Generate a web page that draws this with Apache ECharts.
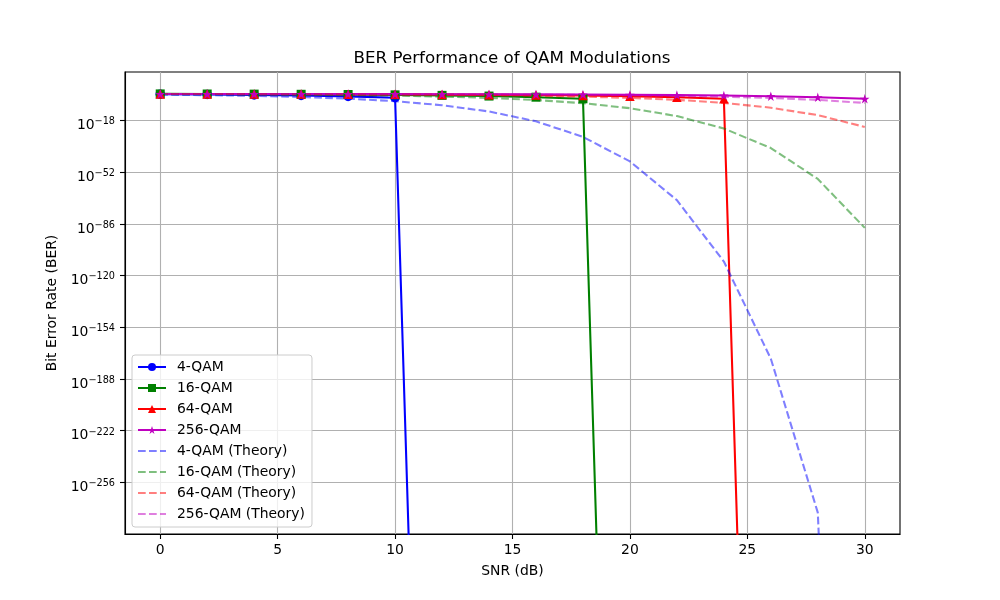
<!DOCTYPE html>
<html>
<head>
<meta charset="utf-8">
<script src="https://cdn.jsdelivr.net/npm/echarts@6/dist/echarts.min.js"></script>
<style>
html, body { margin: 0; padding: 0; background: #fff; }
#chart { width: 1000px; height: 600px; }
</style>
</head>
<body>
<div id="chart"></div>
<script>
// SNR points (dB)
var snr = [0, 2, 4, 6, 8, 10, 12, 14, 16, 18, 20, 22, 24, 26, 28, 30];

// simulated BER (0 = no errors counted)
var sim4   = [0.159, 0.104, 0.057, 0.023, 5.6e-3, 7.8e-4, 0, 0, 0, 0, 0, 0, 0, 0, 0, 0];
var sim16  = [0.246, 0.215, 0.179, 0.140, 0.098, 0.059, 0.0276, 9.4e-3, 1.76e-3, 1.5e-4, 0, 0, 0, 0, 0, 0];
var sim64  = [0.241, 0.229, 0.213, 0.193, 0.170, 0.143, 0.112, 0.080, 0.049, 0.024, 8.5e-3, 1.76e-3, 1.7e-4, 0, 0, 0];
var sim256 = [0.214, 0.209, 0.202, 0.194, 0.184, 0.1715, 0.156, 0.1376, 0.1158, 0.0912, 0.0654, 0.0398, 0.0199, 7.2e-3, 1.55e-3, 1.5e-4];

// theoretical BER
var th4   = [7.9e-2, 3.7e-2, 1.25e-2, 2.3e-3, 1.9e-4, 3.9e-6, 9.1e-9, 6.9e-13, 2.3e-19, 1.4e-29, 1.0e-45, 3.3e-71, 1.5e-111, 1.8e-175, 1.1e-276, 0];
var th16  = [0.198, 0.160, 0.118, 0.0776, 0.0424, 0.0171, 4.2e-3, 5.8e-4, 2.45e-5, 1.95e-7, 9.8e-11, 6.5e-16, 4.5e-24, 6.3e-37, 2.95e-57, 2.0e-89];
var th64  = [0.221, 0.203, 0.182, 0.157, 0.128, 0.096, 0.064, 0.0356, 0.0145, 3.97e-3, 6.0e-4, 3.1e-5, 3.0e-7, 2.2e-10, 2.7e-15, 5.0e-23];
var th256 = [0.206, 0.1985, 0.189, 0.178, 0.164, 0.147, 0.127, 0.1036, 0.078, 0.0523, 0.0294, 0.0122, 3.4e-3, 5.3e-4, 2.7e-5, 3.0e-7];

// tick positions
var xTicks = [0, 5, 10, 15, 20, 25, 30];
var yTickExp = [-256, -222, -188, -154, -120, -86, -52, -18];

var FONT = 'DejaVu Sans';
var STAR = 'path://M0,-1L0.2245,-0.309L0.951,-0.309L0.3633,0.118L0.5878,0.809L0,0.382L-0.5878,0.809L-0.3633,0.118L-0.951,-0.309L-0.2245,-0.309Z';
var LW = 2.08;

// log10 of BER, zeros clipped far below the axis like matplotlib does
function toLog(arr) {
    return arr.map(function (v, i) {
        return [snr[i], v > 0 ? Math.log10(v) : -1000];
    });
}

function simSeries(name, arr, color, symbol, size) {
    return {
        name: name,
        type: 'line',
        data: toLog(arr),
        symbol: symbol,
        symbolSize: size,
        showAllSymbol: true,
        lineStyle: { color: color, width: LW },
        itemStyle: { color: color },
        animation: false
    };
}

function theorySeries(name, arr, color) {
    return {
        name: name,
        type: 'line',
        data: toLog(arr),
        symbol: 'none',
        lineStyle: { color: color, width: LW, type: [7.7, 3.3], opacity: 0.5 },
        itemStyle: { color: color, opacity: 0.5 },
        animation: false
    };
}

var myChart = echarts.init(document.getElementById('chart'));

var legendNames = ['4-QAM', '16-QAM', '64-QAM', '256-QAM',
                   '4-QAM (Theory)', '16-QAM (Theory)', '64-QAM (Theory)', '256-QAM (Theory)'];

var option = {
    backgroundColor: '#ffffff',
    animation: false,
    textStyle: { fontFamily: FONT },
    title: {
        text: 'BER Performance of QAM Modulations',
        left: 512,
        top: 50,
        textAlign: 'center',
        padding: 0,
        textStyle: { fontFamily: FONT, fontSize: 16.7, fontWeight: 'normal', color: '#000' }
    },
    grid: {
        left: 125,
        right: 100,
        top: 72,
        bottom: 66,
        show: true,
        borderColor: '#000',
        borderWidth: 1.1,
        backgroundColor: 'transparent'
    },
    legend: {
        orient: 'vertical',
        left: 132,
        top: 355,
        padding: [5, 7, 6, 5],
        itemWidth: 28,
        itemHeight: 10,
        itemGap: 7,
        backgroundColor: 'rgba(255,255,255,0.8)',
        borderColor: '#cccccc',
        borderWidth: 1,
        borderRadius: 3,
        textStyle: { fontFamily: FONT, fontSize: 13.9, color: '#000', padding: [0, 0, 0, 6] },
        data: legendNames.map(function (n, i) {
            // theory lines have no marker in the legend
            return i < 4 ? { name: n } : { name: n, itemStyle: { opacity: 0 } };
        })
    },
    xAxis: {
        type: 'value',
        min: -1.5,
        max: 31.5,
        name: 'SNR (dB)',
        nameLocation: 'middle',
        nameGap: 30,
        nameTextStyle: { fontFamily: FONT, fontSize: 13.9, color: '#000' },
        axisLine: { show: true, onZero: false, lineStyle: { color: '#000', width: 1.1 } },
        axisTick: { show: true, inside: false, length: 5, customValues: xTicks, lineStyle: { color: '#000', width: 1.1 } },
        axisLabel: {
            margin: 9,
            fontFamily: FONT,
            fontSize: 13.9,
            color: '#000',
            customValues: xTicks,
            formatter: function (v) { return String(v); }
        },
        splitLine: { show: true, lineStyle: { color: '#b0b0b0', width: 1.1 } }
    },
    yAxis: {
        type: 'value',
        min: -290,
        max: 13.8,
        interval: 34,
        name: 'Bit Error Rate (BER)',
        nameLocation: 'middle',
        nameGap: 62,
        nameTextStyle: { fontFamily: FONT, fontSize: 13.9, color: '#000' },
        axisLine: { show: true, onZero: false, lineStyle: { color: '#000', width: 1.1 } },
        axisTick: { show: true, inside: false, length: 5, customValues: yTickExp, lineStyle: { color: '#000', width: 1.1 } },
        axisLabel: {
            margin: 10,
            color: '#000',
            customValues: yTickExp,
            formatter: function (v) {
                return '{b|10}{s|\u2212' + Math.abs(Math.round(v)) + '}';
            },
            rich: {
                b: { fontFamily: FONT, fontSize: 13.9, color: '#000', height: 9.4, lineHeight: 20, verticalAlign: 'bottom' },
                s: { fontFamily: FONT, fontSize: 9.7, color: '#000', height: 23, lineHeight: 20, verticalAlign: 'top' }
            }
        },
        splitLine: { show: true, lineStyle: { color: '#b0b0b0', width: 1.1 } }
    },
    series: [
        simSeries('4-QAM', sim4, '#0000ff', 'circle', 9.5),
        simSeries('16-QAM', sim16, '#008000', 'rect', 9),
        simSeries('64-QAM', sim64, '#ff0000', 'triangle', 9.5),
        simSeries('256-QAM', sim256, '#bf00bf', STAR, 9.5),
        theorySeries('4-QAM (Theory)', th4, '#0000ff'),
        theorySeries('16-QAM (Theory)', th16, '#008000'),
        theorySeries('64-QAM (Theory)', th64, '#ff0000'),
        theorySeries('256-QAM (Theory)', th256, '#bf00bf')
    ]
};

myChart.setOption(option, true);
</script>
</body>
</html>
